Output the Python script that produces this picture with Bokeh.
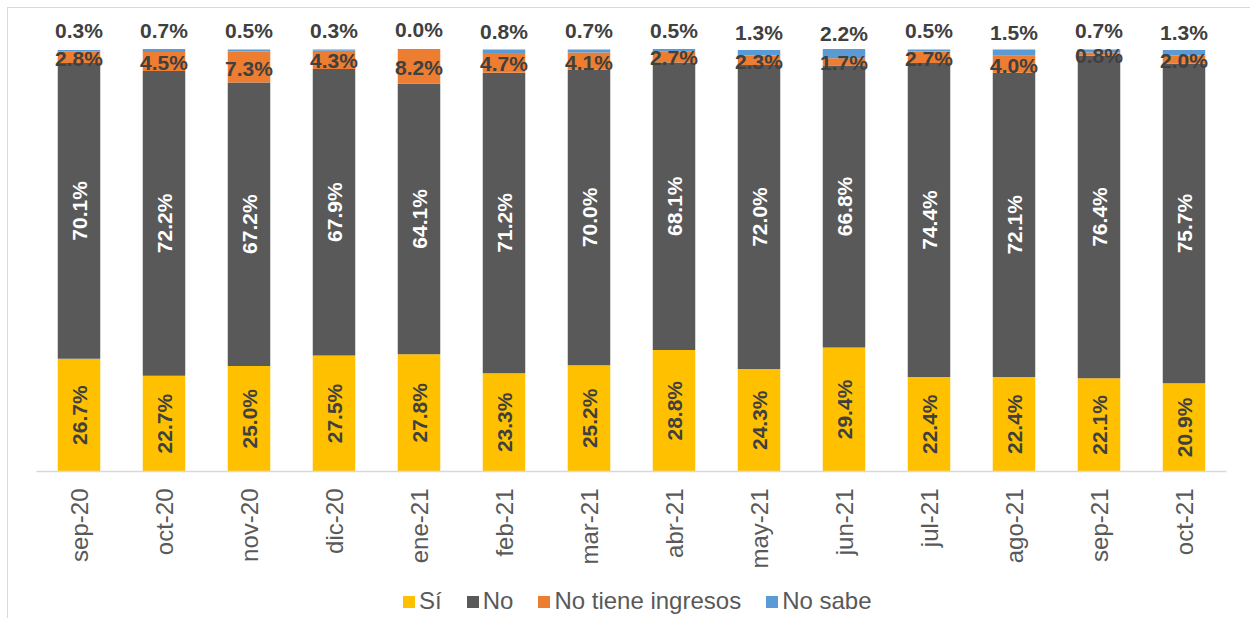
import math
import pandas as pd
from bokeh.plotting import figure
from bokeh.layouts import column
from bokeh.models import ColumnDataSource, Range1d, Legend, LegendItem, FactorRange
from bokeh.core.properties import value
from bokeh.embed import file_html
from bokeh.resources import INLINE

months = ["sep-20", "oct-20", "nov-20", "dic-20", "ene-21", "feb-21", "mar-21",
          "abr-21", "may-21", "jun-21", "jul-21", "ago-21", "sep-21", "oct-21"]
si = [26.7, 22.7, 25.0, 27.5, 27.8, 23.3, 25.2, 28.8, 24.3, 29.4, 22.4, 22.4, 22.1, 20.9]
no = [70.1, 72.2, 67.2, 67.9, 64.1, 71.2, 70.0, 68.1, 72.0, 66.8, 74.4, 72.1, 76.4, 75.7]
no_ingresos = [2.8, 4.5, 7.3, 4.3, 8.2, 4.7, 4.1, 2.7, 2.3, 1.7, 2.7, 4.0, 0.8, 2.0]
no_sabe = [0.3, 0.7, 0.5, 0.3, 0.0, 0.8, 0.7, 0.5, 1.3, 2.2, 0.5, 1.5, 0.7, 1.3]

series = ["si", "no", "nti", "ns"]
labels = ["Sí", "No", "No tiene ingresos", "No sabe"]
colors = ["#FFC000", "#595959", "#ED7D31", "#5B9BD5"]

df = pd.DataFrame({"m": months, "si": si, "no": no, "nti": no_ingresos, "ns": no_sabe})
df["c1"] = df["si"]
df["c2"] = df["c1"] + df["no"]
df["c3"] = df["c2"] + df["nti"]
df["c4"] = df["c3"] + df["ns"]
df["y_si"] = df["c1"] / 2
df["y_no"] = (df["c1"] + df["c2"]) / 2
df["y_nti"] = (df["c2"] + df["c3"]) / 2
df["y_ns"] = (df["c3"] + df["c4"]) / 2
for s in series:
    df["t_" + s] = df[s].map(lambda v: f"{v:.1f}%")
src = ColumnDataSource(df)

W = 1242
H = 580
top_border = 4
bottom_border = 117
px_per_pct = 4.22
frame_h = H - top_border - bottom_border
y_end = frame_h / px_per_pct

p = figure(width=W, height=H, x_range=FactorRange(*months),
           y_range=Range1d(0, y_end), output_backend="svg", toolbar_location=None,
           min_border_left=28, min_border_right=24, min_border_top=top_border,
           min_border_bottom=bottom_border, y_axis_location=None)
p.x_range.range_padding = 0
p.x_range.factor_padding = 0
p.outline_line_color = None
p.xgrid.grid_line_color = None
p.ygrid.grid_line_color = None

rs = p.vbar_stack(series, x="m", width=0.5, color=colors, source=src, line_color=None)

font = value("Liberation Sans")
p.text(x="m", y="y_si", text="t_si", source=src, angle=math.pi / 2, text_align="center",
       text_baseline="middle", text_font=font, text_font_style="bold",
       text_font_size="21px", text_color="#404040")
p.text(x="m", y="y_no", text="t_no", source=src, angle=math.pi / 2, text_align="center",
       text_baseline="middle", text_font=font, text_font_style="bold",
       text_font_size="21px", text_color="#FFFFFF")
p.text(x="m", y="y_nti", text="t_nti", source=src, text_align="center",
       text_baseline="middle", text_font=font, text_font_style="bold",
       text_font_size="21px", text_color="#404040", y_offset=1)
p.text(x="m", y="y_ns", text="t_ns", source=src, text_align="center",
       text_baseline="middle", text_font=font, text_font_style="bold",
       text_font_size="21px", text_color="#404040", y_offset=-20)

ax = p.xaxis[0]
ax.axis_line_color = "#D9D9D9"
ax.axis_line_width = 1.5
ax.major_tick_line_color = None
ax.minor_tick_line_color = None
ax.major_label_orientation = math.pi / 2
ax.major_label_standoff = 11
ax.major_label_text_font = "Liberation Sans"
ax.major_label_text_font_size = "24px"
ax.major_label_text_color = "#595959"

# legend strip below the chart
lf = figure(width=W, height=30, x_range=Range1d(0, 1), y_range=Range1d(0, 1),
            output_backend="svg", toolbar_location=None, min_border=0,
            x_axis_location=None, y_axis_location=None)
lf.outline_line_color = None
lf.xgrid.grid_line_color = None
lf.ygrid.grid_line_color = None
# zero-height key bars (draw nothing, only feed the legend)
dummy = [lf.vbar(x=[0.5], top=[0], bottom=[0], width=0.0, color=c, line_color=None)
         for c in colors]

legend = Legend(items=[LegendItem(label=l, renderers=[r]) for l, r in zip(labels, dummy)],
                orientation="horizontal", location=(365, 3))
legend.label_text_font = "Liberation Sans"
legend.label_text_font_size = "24px"
legend.label_text_color = "#595959"
legend.glyph_width = 15
legend.glyph_height = 15
legend.label_standoff = 3
legend.spacing = 23
legend.padding = 0
legend.margin = 0
legend.border_line_color = None
legend.background_fill_alpha = 0
lf.add_layout(legend, "center")

layout = column(p, lf, spacing=0, margin=(7, 0, 0, 7),
                styles={"border-top": "1.5px solid #D9D9D9",
                        "border-left": "1.5px solid #D9D9D9"})

open("out.html", "w").write(file_html(layout, INLINE))
